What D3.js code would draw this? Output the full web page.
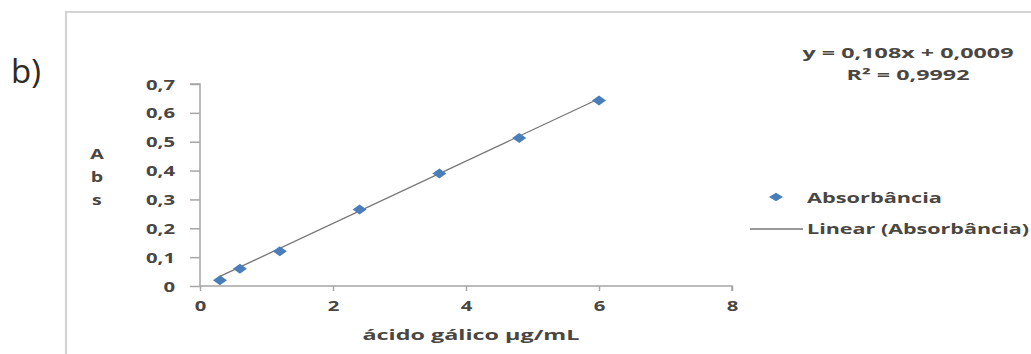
<!DOCTYPE html>
<html>
<head>
<meta charset="utf-8">
<script src="https://cdn.jsdelivr.net/npm/d3@7"></script>
<style>
  html, body { margin: 0; padding: 0; background: #fff; }
  svg { display: block; }
  text { font-family: "Open Sans", "Lato", sans-serif; font-weight: 700; fill: #4a4642; }
</style>
</head>
<body>
<svg id="chart" width="1031" height="354"></svg>
<script>
// Calibration curve: gallic acid concentration vs absorbance
const concentration = [0.3, 0.6, 1.2, 2.4, 3.6, 4.8, 6.0];
const absorbance = [0.02, 0.06, 0.12, 0.265, 0.39, 0.513, 0.643];
const xTicks = [0, 2, 4, 6, 8];
const yTicks = [0, 0.1, 0.2, 0.3, 0.4, 0.5, 0.6, 0.7];
const fitSlope = 0.108;
const fitIntercept = 0.0009;
const rSquared = 0.9992;
const seriesName = "Absorbância";
const xTitle = "ácido gálico µg/mL";
const yTitleLetters = ["A", "b", "s"];
const panelLabel = "b)";

const svg = d3.select("#chart");
const W = 1031, H = 354;

const x = d3.scaleLinear().domain([0, 8]).range([200, 732]);
const y = d3.scaleLinear().domain([0, 0.7]).range([286, 84]);

const comma = v => (v === 0 ? "0" : d3.format(".1f")(v).replace(".", ","));
const commaN = (v, n) => d3.format("." + n + "f")(v).replace(".", ",");

// Stretch text horizontally by a factor, or to a fixed width
function stretch(sel, factor) {
  sel.each(function () {
    const len = this.getComputedTextLength();
    d3.select(this).attr("textLength", len * factor).attr("lengthAdjust", "spacingAndGlyphs");
  });
  return sel;
}
function fitWidth(sel, width) {
  sel.attr("textLength", width).attr("lengthAdjust", "spacingAndGlyphs");
  return sel;
}

// Chart frame (left and top edges)
svg.append("path")
  .attr("d", `M66,${H} L66,12 L${W},12`)
  .attr("fill", "none")
  .attr("stroke", "#d3d3d3")
  .attr("stroke-width", 2.2);

// Panel label
svg.append("text")
  .attr("x", 11).attr("y", 83)
  .style("font-size", "33px").style("font-weight", 400).style("fill", "#2e2a26")
  .text(panelLabel);

// Axes
const axisColor = "#a5a5a5";
const yAxis = svg.append("g").attr("transform", `translate(${x(0)},0)`)
  .call(d3.axisLeft(y).tickValues(yTicks).tickSize(10).tickPadding(15).tickFormat(comma));
const xAxis = svg.append("g").attr("transform", `translate(0,${y(0)})`)
  .call(d3.axisBottom(x).tickValues(xTicks).tickSize(5).tickPadding(10).tickFormat(d3.format("d")));

[yAxis, xAxis].forEach(ax => {
  ax.select(".domain").attr("stroke", axisColor).attr("stroke-width", 1.5);
  ax.selectAll(".tick line").attr("stroke", axisColor).attr("stroke-width", 1.5);
  ax.selectAll(".tick text")
    .attr("fill", "#4a4642")
    .style("font-family", "'Open Sans', sans-serif")
    .style("font-weight", 700)
    .style("font-size", "14px");
});
yAxis.select(".domain").attr("d", `M-10,${y(0.7)}H0V${y(0)}`);
xAxis.select(".domain").attr("d", `M${x(0)},0H${x(8)}V5`);
stretch(yAxis.selectAll(".tick text").attr("dy", "0.36em"), 1.45);
stretch(xAxis.selectAll(".tick text"), 1.45);

// Axis titles
fitWidth(svg.append("text")
  .attr("x", 471).attr("y", 340).attr("text-anchor", "middle")
  .style("font-size", "15px")
  .text(xTitle), 217);

svg.append("g").selectAll("text").data(yTitleLetters).join("text")
  .attr("x", 97).attr("y", (d, i) => 159 + i * 23)
  .attr("text-anchor", "middle")
  .style("font-size", "14px")
  .text(d => d)
  .call(s => stretch(s, 1.4));

// Linear trendline over the data range
const xExtent = d3.extent(concentration);
svg.append("line")
  .attr("x1", x(xExtent[0])).attr("y1", y(fitSlope * xExtent[0] + fitIntercept))
  .attr("x2", x(xExtent[1])).attr("y2", y(fitSlope * xExtent[1] + fitIntercept))
  .attr("stroke", "#777")
  .attr("stroke-width", 1.3);

// Diamond markers
const markerColor = "#4a7ebb";
const diamond = "M-7,0L0,-5L7,0L0,5Z";
svg.append("g").selectAll("path")
  .data(concentration.map((c, i) => [c, absorbance[i]]))
  .join("path")
  .attr("d", diamond)
  .attr("transform", d => `translate(${x(d[0])},${y(d[1])})`)
  .attr("fill", markerColor);

// Regression equation
fitWidth(svg.append("text")
  .attr("x", 908).attr("y", 58).attr("text-anchor", "middle")
  .style("font-size", "14px")
  .text(`y = ${commaN(fitSlope, 3)}x + ${commaN(fitIntercept, 4)}`), 211);
fitWidth(svg.append("text")
  .attr("x", 908).attr("y", 80).attr("text-anchor", "middle")
  .style("font-size", "14px")
  .text(`R² = ${commaN(rSquared, 4)}`), 123);

// Legend
svg.append("path")
  .attr("d", diamond)
  .attr("transform", "translate(776,197) scale(1,0.85)")
  .attr("fill", markerColor);
fitWidth(svg.append("text")
  .attr("x", 807).attr("y", 203)
  .style("font-size", "15px")
  .text(seriesName), 135);

svg.append("line")
  .attr("x1", 750).attr("x2", 803).attr("y1", 229).attr("y2", 229)
  .attr("stroke", "#777").attr("stroke-width", 1.5);
fitWidth(svg.append("text")
  .attr("x", 807).attr("y", 234)
  .style("font-size", "15px")
  .text(`Linear (${seriesName})`), 222);
</script>
</body>
</html>
